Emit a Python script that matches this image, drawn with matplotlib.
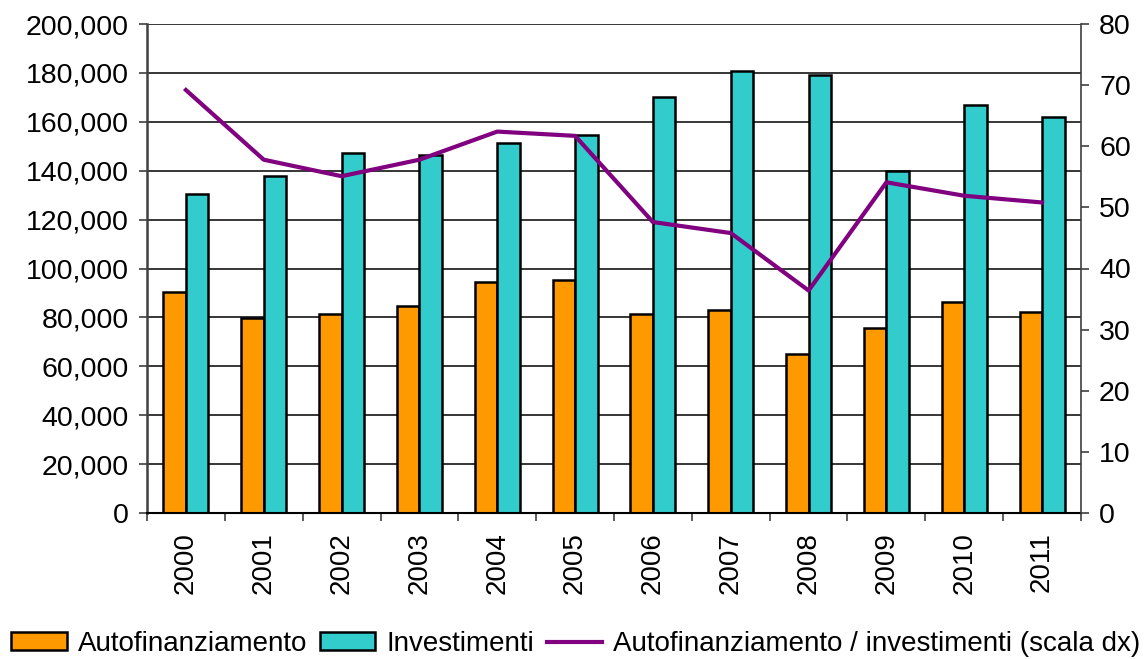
import numpy as np
import matplotlib
matplotlib.use("Agg")
import matplotlib.pyplot as plt
from matplotlib.ticker import FuncFormatter, MultipleLocator

plt.rcParams['font.family'] = ['Liberation Sans', 'DejaVu Sans']

# Data
years = ['2000', '2001', '2002', '2003', '2004', '2005',
         '2006', '2007', '2008', '2009', '2010', '2011']
autofinanziamento = [90300, 79600, 81400, 84700, 94500, 95200,
                     81400, 83000, 64900, 75700, 86300, 82200]
investimenti = [130300, 137700, 147400, 146400, 151500, 154600,
                170300, 180800, 179300, 140000, 167000, 162000]
rapporto = [69.2, 57.8, 55.1, 57.8, 62.4, 61.7,
            47.6, 45.8, 36.4, 54.1, 51.9, 50.8]

orange = '#FF9900'
teal = '#33CCCC'
purple = '#800080'

fig = plt.figure(figsize=(11.45, 6.59), dpi=100)
ax = fig.add_axes([147 / 1145, 1 - 513 / 659, 934 / 1145, 489 / 659])

x = np.arange(len(years))
w = 0.29
b1 = ax.bar(x - w / 2, autofinanziamento, w, color=orange, edgecolor='black',
            linewidth=1.8, label='Autofinanziamento', zorder=2)
b2 = ax.bar(x + w / 2, investimenti, w, color=teal, edgecolor='black',
            linewidth=1.8, label='Investimenti', zorder=2)

ax.set_xlim(-0.5, len(years) - 0.5)
ax.set_ylim(0, 200000)
ax.yaxis.set_major_locator(MultipleLocator(20000))
ax.yaxis.set_major_formatter(FuncFormatter(lambda v, p: f'{int(v):,}'))
ax.grid(axis='y', color='black', linewidth=1.1)
ax.set_axisbelow(True)

ax.set_xticks(x)
ax.set_xticklabels(years, rotation=90, fontsize=20)
ax.set_xticks(np.arange(-0.5, len(years)), minor=True)
ax.tick_params(axis='x', which='major', length=0, pad=14)
ax.tick_params(axis='x', which='minor', length=6, width=1.2, color='#404040', direction='out')
ax.tick_params(axis='y', labelsize=20.5, length=6, width=1.2, color='#404040', pad=7)

for s in ['top', 'right']:
    ax.spines[s].set_visible(False)
ax.spines['left'].set_color('#404040')
ax.spines['left'].set_linewidth(1.8)
ax.spines['bottom'].set_color('black')
ax.spines['bottom'].set_linewidth(1.5)

ax2 = ax.twinx()
l1, = ax2.plot(x, rapporto, color=purple, linewidth=3,
               label='Autofinanziamento / investimenti (scala dx)')
ax2.set_ylim(0, 80)
ax2.yaxis.set_major_locator(MultipleLocator(10))
ax2.tick_params(axis='y', labelsize=20.5, length=6, width=1.2, color='#404040', pad=7)
for s in ['top', 'left', 'bottom']:
    ax2.spines[s].set_visible(False)
ax2.spines['right'].set_color('#404040')
ax2.spines['right'].set_linewidth(1.2)

fig.legend(handles=[b1, b2, l1], loc='center',
           bbox_to_anchor=(576 / 1145, 1 - 644 / 659), ncol=3, frameon=False,
           fontsize=20, handlelength=2.0, handleheight=0.6, handletextpad=0.4,
           columnspacing=0.45, borderpad=0, borderaxespad=0)

fig.savefig('out.png', dpi=100)
